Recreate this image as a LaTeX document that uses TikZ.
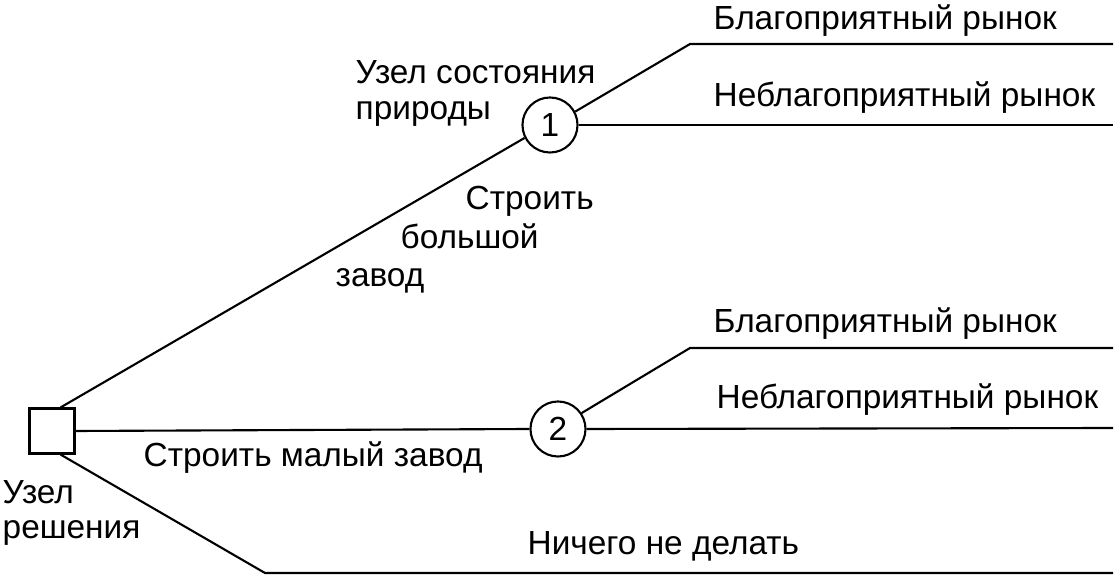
\documentclass[tikz,border=0pt]{standalone}
\usepackage{fontspec}
\setmainfont{Liberation Sans}
\usetikzlibrary{positioning, calc}

\begin{document}
\begin{tikzpicture}[
    x=0.01cm, y=-0.01cm,
    decision/.style={rectangle, draw, line width=0.6pt, minimum size=0.45cm, inner sep=0pt},
    chance/.style={circle, draw, line width=0.6pt, minimum size=0.55cm, inner sep=0pt, font=\fontsize{9.5pt}{11pt}\selectfont},
    branch/.style={line width=0.6pt},
    lbl/.style={anchor=base west, inner sep=0pt, font=\fontsize{9.5pt}{11pt}\selectfont},
]
\useasboundingbox (0,0) rectangle (1120,576);

% nodes
\node[decision] (dec) at (52,431) {};
\node[chance] (large) at (550,125) {1};
\node[chance] (small) at (558,429) {2};

% free ends of the branches
\coordinate (kinkA) at (690,44);
\coordinate (endA) at (1113,44);
\coordinate (endB) at (1113,125);
\coordinate (kinkC) at (690,348);
\coordinate (endC) at (1113,348);
\coordinate (endD) at (1113,428);
\coordinate (kinkE) at (265,573);
\coordinate (endE) at (1113,573);

% branches
\draw[branch] (dec.70) -- (large.207);
\draw[branch] (dec.east) -- (small.west);
\draw[branch] (dec.-70) -- (kinkE) -- (endE);
\draw[branch] (large.28) -- (kinkA) -- (endA);
\draw[branch] (large.east) -- (endB);
\draw[branch] (small.34) -- (kinkC) -- (endC);
\draw[branch] (small.east) -- (endD);

% labels
\node[lbl] (favA) at (713,30) {Благоприятный рынок};
\node[lbl] (unfavA) at (713,107) {Неблагоприятный рынок};
\node[lbl] (stateA) at (355,84) {Узел состояния};
\node[lbl] (stateB) at (355,120) {природы};
\node[lbl] (bigA) at (465,210) {Строить};
\node[lbl] (bigB) at (400,249) {большой};
\node[lbl] (bigC) at (335,287) {завод};
\node[lbl] (favB) at (713,333) {Благоприятный рынок};
\node[lbl] (unfavB) at (716,409) {Неблагоприятный рынок};
\node[lbl] (smallLbl) at (143,467) {Строить малый завод};
\node[lbl] (decA) at (2,504) {Узел};
\node[lbl] (decB) at (2,539) {решения};
\node[lbl] (nothing) at (527,555) {Ничего не делать};

\end{tikzpicture}
\end{document}
